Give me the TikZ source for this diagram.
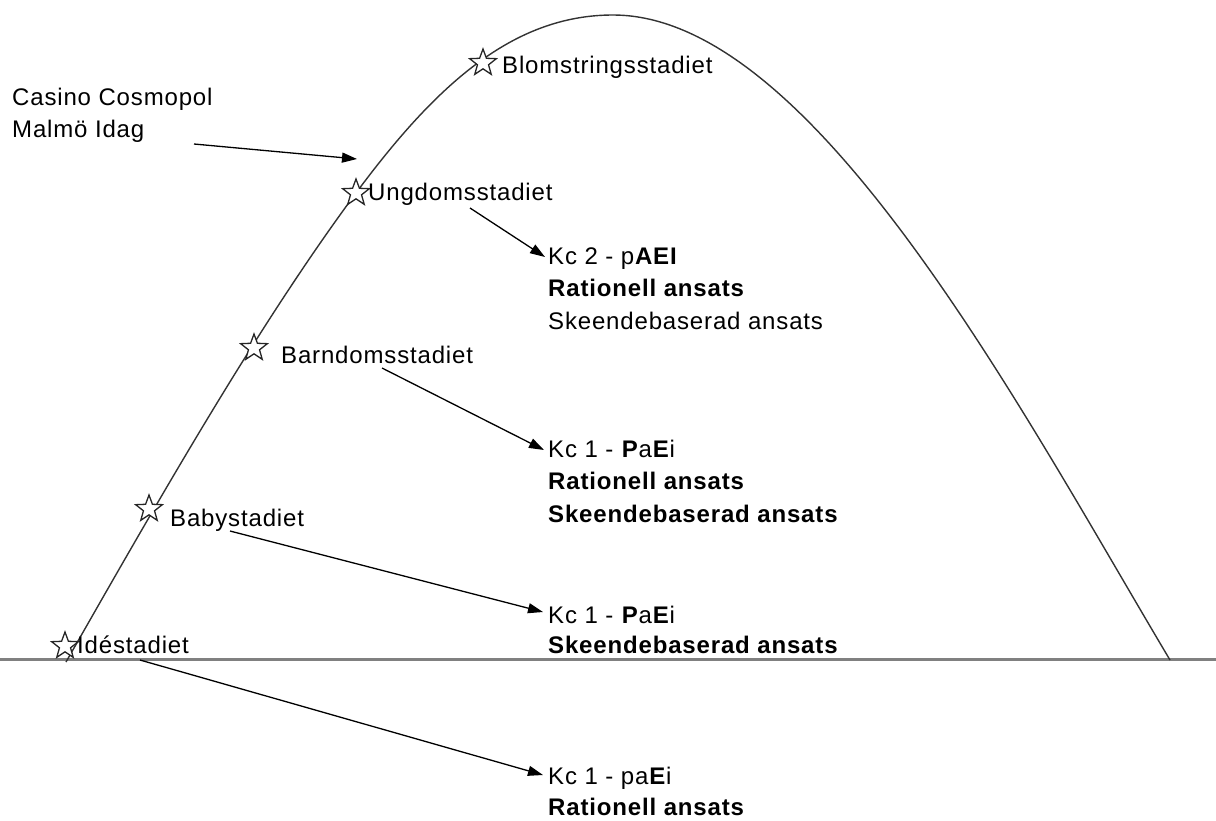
\documentclass[tikz,border=0pt]{standalone}
\usepackage{fontspec}
\setmainfont{Liberation Sans}[LetterSpace=3.5]
\usetikzlibrary{shapes.geometric,arrows.meta}
\tikzset{
  lbl/.style={anchor=base west, inner sep=0pt, font=\fontsize{24}{30}\selectfont},
  stage/.style={star, star points=5, star point ratio=2.4, minimum size=28pt, inner sep=0pt, draw=black!85, line width=1.3pt, fill=white},
  arr/.style={draw=black, line width=1.3pt, -{Triangle[length=15pt,width=10pt]}},
  life/.style={draw=black!80, line width=1.4pt},
  ground/.style={draw=black!50, line width=2.5pt}
}
\begin{document}
\begin{tikzpicture}[x=1pt,y=-1pt]
\useasboundingbox (0,0) rectangle (1216,820);
% ground line
\coordinate (gL) at (0,659.5);
\coordinate (gR) at (1216,659.5);
\draw[ground] (gL) -- (gR);
% life curve
\coordinate (cFoot) at (66,662);
\coordinate (cMid) at (356,193);
\coordinate (cTop) at (613,15);
\coordinate (cEnd) at (1170,660);
\draw[life] (cFoot) .. controls (163,492) and (259,324) .. (cMid)
  .. controls (436,85) and (513,15) .. (cTop)
  .. controls (813,15) and (1020,408) .. (cEnd);
% stars
\node[stage] (sIde) at (65,646) {};
\node[stage] (sBaby) at (149,509) {};
\node[stage] (sBarn) at (254,348) {};
\node[stage] (sUng) at (356,193) {};
\node[stage] (sBlom) at (483,63) {};
% stage labels
\node[lbl] (tIde) at (77,653) {Idéstadiet};
\node[lbl] (tBaby) at (170,526) {Babystadiet};
\node[lbl] (tBarn) at (281,363) {Barndomsstadiet};
\node[lbl] (tUng) at (368,200) {Ungdomsstadiet};
\node[lbl] (tBlom) at (502,73) {Blomstringsstadiet};
% casino label
\node[lbl] (tCas1) at (12,105) {Casino Cosmopol};
\node[lbl] (tCas2) at (12,137) {Malmö Idag};
% result blocks
\node[lbl] (r4a) at (548,264) {Kc 2 - p\textbf{AEI}};
\node[lbl] (r4b) at (548,296.5) {\textbf{Rationell ansats}};
\node[lbl] (r4c) at (548,329) {Skeendebaserad ansats};
\node[lbl] (r3a) at (548,457) {Kc 1 - \textbf{P}a\textbf{E}i};
\node[lbl] (r3b) at (548,489.5) {\textbf{Rationell ansats}};
\node[lbl] (r3c) at (548,522) {\textbf{Skeendebaserad ansats}};
\node[lbl] (r2a) at (548,623) {Kc 1 - \textbf{P}a\textbf{E}i};
\node[lbl] (r2b) at (548,653) {\textbf{Skeendebaserad ansats}};
\node[lbl] (r1a) at (548,784) {Kc 1 - pa\textbf{E}i};
\node[lbl] (r1b) at (548,815) {\textbf{Rationell ansats}};
% arrow ends
\coordinate (aCasS) at (194,144);
\coordinate (aCasE) at (357,159);
\coordinate (aUngS) at (470,208);
\coordinate (aUngE) at (545,257);
\coordinate (aBarS) at (382,368);
\coordinate (aBarE) at (544,450);
\coordinate (aBabS) at (230,531);
\coordinate (aBabE) at (543,612);
\coordinate (aIdeS) at (140,660);
\coordinate (aIdeE) at (543,775);
\draw[arr] (aCasS) -- (aCasE);
\draw[arr] (aUngS) -- (aUngE);
\draw[arr] (aBarS) -- (aBarE);
\draw[arr] (aBabS) -- (aBabE);
\draw[arr] (aIdeS) -- (aIdeE);
\end{tikzpicture}
\end{document}
